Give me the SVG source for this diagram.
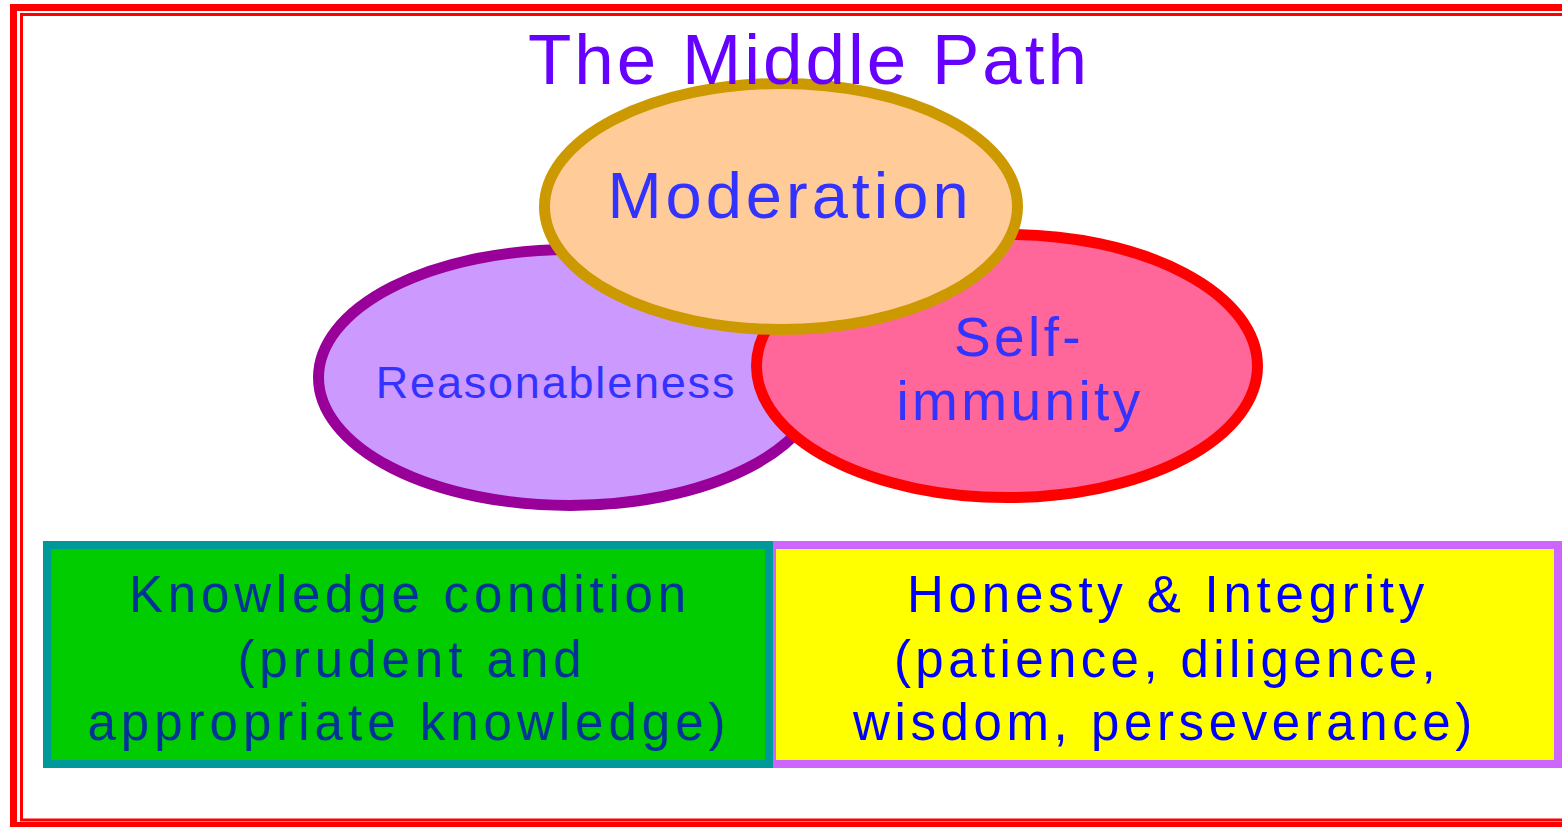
<svg xmlns="http://www.w3.org/2000/svg" width="1562" height="827" viewBox="0 0 1562 827">
<style>
.t{font-family:"Liberation Sans",Arial,sans-serif;text-anchor:middle}
.el{stroke-width:11}
.bx{stroke-width:8}
</style>
<rect width="1562" height="827" fill="#FFFFFF"/>
<g id="frame" fill="none" stroke="#FF0000">
<rect x="13.5" y="7.5" width="1600" height="818" stroke-width="7"/>
<rect x="21.5" y="14.5" width="1600" height="805.5" stroke-width="3"/>
</g>
<g id="reasonableness">
<ellipse class="el" cx="570" cy="377.5" rx="251.5" ry="128" fill="#CC99FF" stroke="#990099"/>
<text class="t" x="556" y="398" font-size="45" letter-spacing="1.8" fill="#3333FF">Reasonableness</text>
</g>
<g id="self-immunity">
<ellipse class="el" cx="1007" cy="366" rx="250.5" ry="131.5" fill="#FF6699" stroke="#FF0000"/>
<text class="t" x="1019" y="356" font-size="55" letter-spacing="3.4" fill="#3333FF">Self-</text>
<text class="t" x="1020" y="420" font-size="55" letter-spacing="3.4" fill="#3333FF">immunity</text>
</g>
<g id="moderation">
<ellipse class="el" cx="781" cy="206.5" rx="236.5" ry="123" fill="#FFCC99" stroke="#CC9900"/>
<text class="t" x="790" y="218" font-size="65" letter-spacing="4" fill="#3333FF">Moderation</text>
</g>
<g id="honesty">
<rect class="bx" x="772" y="545" width="786" height="219" fill="#FFFF00" stroke="#CC66FF"/>
<text class="t" x="1168" y="612" font-size="51" letter-spacing="4.8" fill="#0000FF">Honesty &amp; Integrity</text>
<text class="t" x="1167" y="677" font-size="51" letter-spacing="4.4" fill="#0000FF">(patience, diligence,</text>
<text class="t" x="1165" y="740" font-size="51" letter-spacing="4.6" fill="#0000FF">wisdom, perseverance)</text>
</g>
<g id="knowledge">
<rect class="bx" x="47" y="545" width="722" height="219" fill="#00CC00" stroke="#009999"/>
<text class="t" x="410" y="612" font-size="51" letter-spacing="4.8" fill="#003399">Knowledge condition</text>
<text class="t" x="412" y="677" font-size="51" letter-spacing="5" fill="#003399">(prudent and</text>
<text class="t" x="409" y="740" font-size="51" letter-spacing="5" fill="#003399">appropriate knowledge)</text>
</g>
<g id="connectors"></g>
<g id="title">
<text class="t" x="809" y="84" font-size="71" letter-spacing="3" fill="#6600FF">The Middle Path</text>
</g>
</svg>
